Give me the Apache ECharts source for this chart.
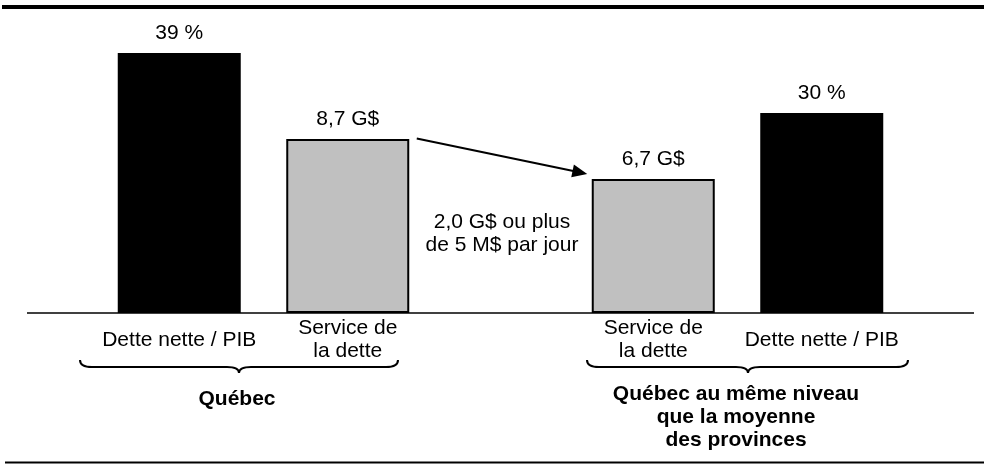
<!DOCTYPE html>
<html>
<head>
<meta charset="utf-8">
<script src="https://cdn.jsdelivr.net/npm/echarts@6/dist/echarts.min.js"></script>
<style>
html, body { margin: 0; padding: 0; background: #fff; }
#chart { width: 984px; height: 464px; }
</style>
</head>
<body>
<div id="chart"></div>
<script>
// categories, one group per side
var quebecCats = ['Dette nette / PIB', 'Service de\nla dette'];
var moyenneCats = ['Service de\nla dette', 'Dette nette / PIB'];
// values (% of GDP and billions $)
var detteQc = [39, '-'];
var serviceQc = ['-', 8.7];
var serviceMoy = [6.7, '-'];
var detteMoy = ['-', 30];
var groupLabels = ['Québec', 'Québec au même niveau\nque la moyenne\ndes provinces'];
var noteText = '2,0 G$ ou plus\nde 5 M$ par jour';

var FONT = '"Liberation Sans", Arial, sans-serif';
var chart = echarts.init(document.getElementById('chart'));

function pctLabel(p) { return p.value + ' %'; }
function gLabel(p) { return p.value.toFixed(1).replace('.', ',') + ' G$'; }

function xAxisOf(grid, cats) {
    return {
        type: 'category', gridIndex: grid, data: cats,
        axisLine: { show: false }, axisTick: { show: false },
        axisLabel: {
            interval: 0, color: '#000', fontSize: 21, fontFamily: FONT,
            lineHeight: 23, margin: 27, verticalAlign: 'middle'
        }
    };
}

function barOf(name, x, y, data, isGray, fmt) {
    return {
        name: name, type: 'bar', xAxisIndex: x, yAxisIndex: y,
        data: data, barWidth: 123, barGap: '-100%',
        itemStyle: isGray
            ? { color: '#c0c0c0', borderColor: '#000', borderWidth: 2 }
            : { color: '#000', borderColor: '#000', borderWidth: 2 },
        label: {
            show: true, position: 'top', distance: 9,
            color: '#000', fontSize: 21, fontFamily: FONT,
            formatter: fmt
        }
    };
}

var option = {
    animation: false,
    backgroundColor: '#fff',
    grid: [
        { left: 95, width: 337, top: 13, bottom: 151 },
        { left: 569, width: 337, top: 13, bottom: 151 }
    ],
    xAxis: [xAxisOf(0, quebecCats), xAxisOf(1, moyenneCats)],
    yAxis: [
        { type: 'value', gridIndex: 0, min: 0, max: 45, show: false },
        { type: 'value', gridIndex: 0, min: 0, max: 15, show: false },
        { type: 'value', gridIndex: 1, min: 0, max: 45, show: false },
        { type: 'value', gridIndex: 1, min: 0, max: 15, show: false }
    ],
    series: [
        barOf('Dette nette / PIB', 0, 0, detteQc, false, pctLabel),
        barOf('Service de la dette', 0, 1, serviceQc, true, gLabel),
        barOf('Service de la dette', 1, 3, serviceMoy, true, gLabel),
        barOf('Dette nette / PIB', 1, 2, detteMoy, false, pctLabel)
    ]
};
chart.setOption(option);

// annotations placed from the axes
var baseY = chart.convertToPixel({ seriesIndex: 0 }, [0, 0])[1];
var from = chart.convertToPixel({ seriesIndex: 1 }, [1, serviceQc[1]]);
var to = chart.convertToPixel({ seriesIndex: 2 }, [0, serviceMoy[0]]);
var sx = from[0] + 69, sy = from[1] - 0.5;
var ex = to[0] - 66, ey = to[1] - 5;
var ang = Math.atan2(ey - sy, ex - sx);
var dx = Math.cos(ang), dy = Math.sin(ang);
var headLen = 15, headW = 6.5;
var bx = ex - dx * headLen, by = ey - dy * headLen;

var braceStyle = { fill: null, stroke: '#000', lineWidth: 2 };
function curve(x1, y1, cx, cy, x2, y2) {
    return { type: 'bezierCurve', shape: { x1: x1, y1: y1, cpx1: cx, cpy1: cy, x2: x2, y2: y2 }, style: braceStyle };
}
function seg(x1, y1, x2, y2) {
    return { type: 'line', shape: { x1: x1, y1: y1, x2: x2, y2: y2 }, style: braceStyle };
}
function braceOf(x0, x1, xc) {
    var y0 = baseY + 47, y1 = baseY + 54, y2 = baseY + 60, r = 12;
    return {
        type: 'group',
        children: [
            curve(x0, y0, x0, y1, x0 + r, y1),
            seg(x0 + r, y1, xc - r, y1),
            curve(xc - r, y1, xc, y1, xc, y2),
            curve(xc, y2, xc, y1, xc + r, y1),
            seg(xc + r, y1, x1 - r, y1),
            curve(x1 - r, y1, x1, y1, x1, y0)
        ]
    };
}

chart.setOption({
    graphic: [
        { type: 'rect', shape: { x: 2, y: 5, width: 982, height: 4 }, style: { fill: '#000' } },
        { type: 'rect', shape: { x: 5, y: 461.5, width: 979, height: 2 }, style: { fill: '#000' } },
        { type: 'line', shape: { x1: 27, y1: baseY, x2: 974, y2: baseY }, style: { stroke: '#000', lineWidth: 1.5 } },
        braceOf(80, 398, 239),
        braceOf(587, 908, 748),
        {
            type: 'text', x: 237, y: 399,
            style: {
                text: groupLabels[0], align: 'center', verticalAlign: 'middle',
                fontSize: 21, fontWeight: 'bold', fontFamily: FONT, fill: '#000', lineHeight: 23
            }
        },
        {
            type: 'text', x: 736, y: 417,
            style: {
                text: groupLabels[1], align: 'center', verticalAlign: 'middle',
                fontSize: 21, fontWeight: 'bold', fontFamily: FONT, fill: '#000', lineHeight: 23
            }
        },
        {
            type: 'text', x: 502, y: 234,
            style: {
                text: noteText, align: 'center', verticalAlign: 'middle',
                fontSize: 21, fontFamily: FONT, fill: '#000', lineHeight: 23
            }
        },
        { type: 'line', shape: { x1: sx, y1: sy, x2: bx + dx * 2, y2: by + dy * 2 }, style: { stroke: '#000', lineWidth: 2 } },
        {
            type: 'polygon',
            shape: { points: [[ex, ey], [bx - dy * headW, by + dx * headW], [bx + dy * headW, by - dx * headW]] },
            style: { fill: '#000' }
        }
    ]
});
</script>
</body>
</html>
